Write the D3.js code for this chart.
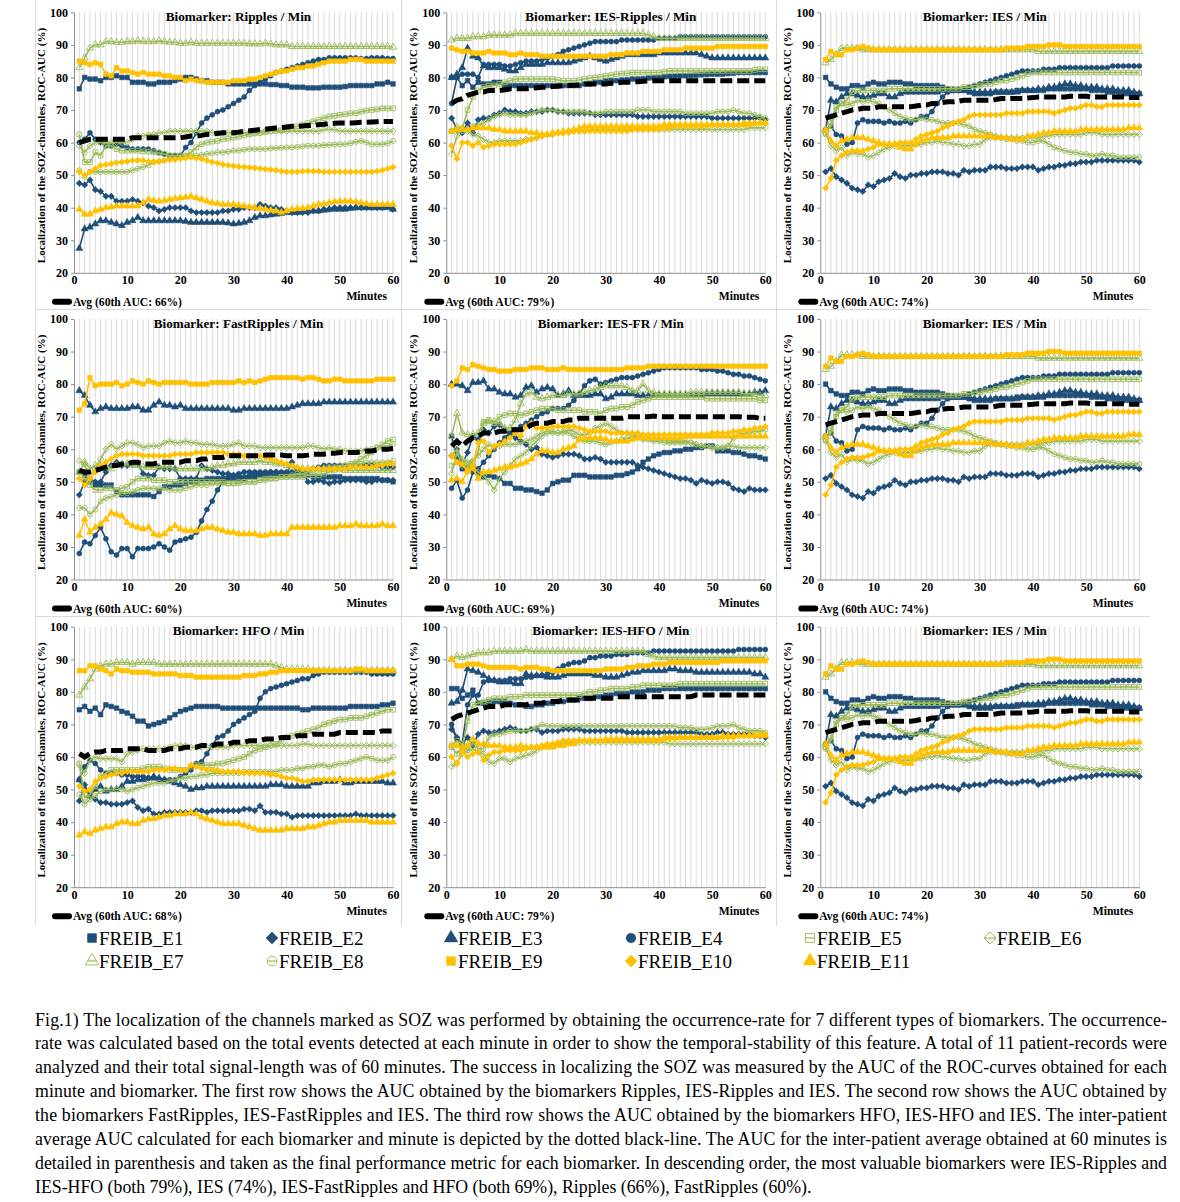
<!DOCTYPE html>
<html>
<head>
<meta charset="utf-8">
<script src="https://cdn.jsdelivr.net/npm/d3@7"></script>
<style>
  body { margin: 0; background: #fff; }
  svg { display: block; }
  text { font-family: "Liberation Serif", "Times New Roman", serif; }
</style>
</head>
<body>
<svg id="chart" width="1180" height="1202"></svg>
<script>
// ---- data (AUC %, minutes 1..60) ----
var minutes = d3.range(1, 61);
var yTicks = [20, 30, 40, 50, 60, 70, 80, 90, 100];
var xTicks = [0, 10, 20, 30, 40, 50, 60];
var seriesNames = ['FREIB_E1', 'FREIB_E2', 'FREIB_E3', 'FREIB_E4', 'FREIB_E5', 'FREIB_E6',
                   'FREIB_E7', 'FREIB_E8', 'FREIB_E9', 'FREIB_E10', 'FREIB_E11'];

var ripples = [
  [76.5,80,79.5,79.5,79,80,80,80.5,80,80, 78.5,78.5,78.5,78,78,78.5,78.5,78.5,79,79.5, 80,80,79.5,79,79,78.5,78.5,78.5,78,78, 78,78,78,78,78,78,77.8,77.8,77.5,77.5, 77,77,77,76.8,76.8,76.8,77,77,77,77, 77.2,77.5,77.5,77.5,77.5,77.5,78,78,78.5,78],
  [47.5,47,48.5,45.5,45,43.5,43.5,42,42,42, 42.5,42,41.5,40.5,40,39,39.5,40,40,40, 40,39,38.5,38.5,38.5,38.5,38.5,39,39,39.5, 39.5,40,40,40,41,40.5,40,40,39.5,39, 38.5,38.5,38.5,38.5,39,39,39.5,39.5,40,40, 40,40,40,40,40,40,40,40,40.5,39.5],
  [27.5,33.5,34,35,36,36,35.5,35,34.5,35.5, 36,37,36,36,36,36,36,36,36,36, 35.8,35.5,35.5,35.5,35.5,35.5,35.5,35.5,35.3,35, 35.2,35.5,36,37,37.5,37.5,37.8,38,38.2,38.5, 38.5,38.5,38.8,39,39,39,39.2,39.5,39.5,39.5, 39.5,39.8,40,40,40,40,40,40,40,39.5],
  [60,61,63,61,60,59,59,59.5,59,58.5, 58,58,58,58,57.5,57,56.5,56,56,56, 58.5,60,63,66,67.5,68.5,69.5,70,71,72, 73,74,76,77.5,78.5,79.5,80.5,81.5,82,82.5, 83,83.5,84,84.5,85,85.5,85.5,86,86,86, 86,86,86,85.8,85.8,86,86,86,85.8,85.8],
  [62.5,54,54,57,56,59,59,58,57.5,57.5, 57.5,57.5,57.3,57.2,57,56.8,56.5,56,56,56, 56,57,58.5,59.5,60,60.3,60.5,61,61.2,61.5, 61.8,62.2,62.5,62.8,63,63.2,63.5,63.7,63.8,64, 64.5,65,65.5,66,66.5,67,67.5,68,68.2,68.5, 68.7,69,69,69.5,69.8,70,70.2,70.5,70.5,70.5],
  [59,57,59,60,60,60,60,60,60,60, 61,62,62,62.5,62.5,63,63,63.5,63.5,63.5, 63.5,63.5,63.5,63.5,63.5,63,63,63,63,63, 63,63,63,63,63,63.5,63.5,63.5,63.5,63.5, 63.5,63.5,63.5,63.5,63.5,63.5,64,64,64,63.5, 63.5,63.5,63.5,63.5,63.5,63.5,63.5,63.5,63.5,63.5],
  [83,86,89,90,90,91,91,90.8,90.8,91, 91,91.2,91,91,91,91.2,91,90.8,90.8,90.5, 90.5,90.8,90.5,90.5,90.5,90.5,90.5,90.5,90.5,90.5, 90.5,90.5,90.3,90.3,90.3,90.5,90.3,90,90,90, 89.5,89.5,89.5,89.5,89.5,89.5,89.5,89.5,89.5,89.5, 89.5,89.5,89.5,89.5,89.5,89.5,89.5,89.5,89.5,89.3],
  [51.5,49.5,51,51,51,51,51,51,51,51, 51.5,52,52.5,53,54,54.2,54.5,55,55.2,55.5, 55.5,55.8,56,56.2,56.5,56.7,57,57,57.2,57.5, 57.5,57.8,58,58,58,58,58.2,58.3,58.4,58.5, 58.5,58.7,58.8,59,59,59,59.2,59.3,59.4,59.5, 59.5,59.8,60.2,60.5,60,59.5,59.5,59.5,59.8,60.5],
  [85,84.5,84,84.5,84,81,80.5,83,82,82, 81.5,81,81.5,81,81,81,80.5,80.5,80,80, 79,79.5,79,79,78.5,78.5,78.5,78.5,78.5,79, 79,79,79.5,79.5,80,80.5,81,81.5,82,82, 82.5,83,83,83.5,83.5,84,84.5,85,85,85, 85,85.5,85.5,85.5,85,85,85,85,85,85],
  [51,50,51,52,53,53.2,53.5,53.8,54,54.2, 54.5,54.5,54.5,54.2,54,54.2,54.5,54.7,54.8,55, 55.2,55.5,55.2,55,54.5,54,53.7,53.3,53,52.8, 52.6,52.5,52.3,52.2,52,51.8,51.7,51.5,51.2,51, 51,51,51.2,51.2,51.2,51.2,51,51,51,51, 51,51,51,51,51,51,51.2,51.5,52,52.5],
  [39.5,38,38,39,39.5,40,40.2,40.5,40.5,40.5, 40.5,40.5,41.5,42.5,42.2,42,42.2,42.5,42.8,43, 43.2,43.5,43,42.5,42,41.5,41.3,41,41,41, 40.8,40.5,40.2,40,39.8,39.5,39.2,39,38.5,39, 39.5,39.7,39.8,40,40.5,41,41.2,41.5,41.8,42, 42,42,41.8,41.5,41.2,41,41,41,41,41]
];
var ripplesAvg = [60,60.5,61,61,61,61,61,61,61,61, 61.5,61.5,61.5,61.5,61.5,61.5,61.5,61.5,61.5,61.5, 61.7,62,62,62.2,62.5,62.6,62.8,63,63,63, 63.2,63.5,63.6,63.8,64,64.1,64.3,64.5,64.6,64.8, 65,65,65.1,65.2,65.3,65.5,65.6,65.8,65.9,66, 66,66,66.1,66.2,66.2,66.3,66.4,66.5,66.5,66.5];

var iesRipples = [
  [80,80,77.5,79,77,78.5,78,78,78.5,78.5, 77.5,77.5,77.5,77.5,77.5,77.5,77.5,77.5,77.5,77.5, 77.5,77.5,77.5,77.5,77.5,78,78,78.5,78.5,79, 79,79,79.2,79.3,79.5,79.5,79.6,79.8,79.9,80, 80.2,80.3,80.4,80.5,80.5,80.6,80.7,80.8,80.9,81, 81,81,81.2,81.3,81.5,81.5,81.5,81.5,81.5,81.5],
  [67.5,64,63,66,63,67,67.5,67.5,68.5,69, 70,69.5,69.5,69,69,69.5,69.5,69.5,70,70, 69.5,69.5,69,69,69,69,69,68.5,68.5,68.5, 68.5,68.5,68.5,68.5,68.5,68,68,68,68,68, 68,68,68,68,68,68,68,68,68,67.5, 67.5,67.5,67.5,67.5,67.5,67.5,67.5,67.5,67.5,67],
  [80,81,83,89,86.5,86,83.5,83,83,83, 82.5,82,82,83,84,84,84,84,84.5,84.5, 84.5,84.5,84.5,85,85.5,86,86.5,86,85.5,85, 85.5,86,86.5,87,87,87,87,87,87,87.5, 87.5,87.5,87.5,87.5,87.5,87.5,87.5,87,86.5,86, 86,86,86,86,86,86,86,86,86,86],
  [72,80,81,81,81,80,84,84,84,84, 83.5,83.5,84,84.5,85,85,85,85.5,86,86.5, 87,88,88.5,89,89.5,90,90.5,91,91,91, 91,91,91.5,91.5,91.5,91.5,91.5,91.5,91.5,92, 92,92,92,92.5,92.5,92.5,92.5,92.5,92.5,92.5, 92.5,92.5,92.5,92.5,92.5,92.5,92.5,92.5,92.5,92.5],
  [63.5,64,64,70,74,76,77,77.5,77.5,78, 78.5,79,79.5,79.5,79.5,79.5,79.5,79.5,79.5,79.5, 79.2,79,79,79,79.2,79.5,79.8,80,80.2,80.5, 80.7,81,81.2,81.3,81.5,81.5,81.5,81.5,81.5,81.5, 81.8,82,82,82,82,82,82,82,82,82, 82,82,82,82,82,82,82,82.3,82.5,82.5],
  [56.5,62,64.5,63.5,62.5,62,61,60,60,60.5, 60.5,60.5,60.5,60.5,61,61,61.5,62,62.5,62.5, 63,63,63.5,63.5,63.5,63.5,64,64,64,64, 64,64,64,64,64,64,64,64,64,64, 64,64,64,64,64,64,64,64,64,64, 64,64,64,64,64,64,64.5,64.5,64.5,64.5],
  [91.5,92,92,92,92.5,92.5,92.5,93,93,93, 93,93,93.5,93.5,93.5,93.5,93.5,93.5,93.5,93.5, 93.5,93.5,93.5,93.5,93.5,93.5,93.5,93.5,93.5,93.5, 93.5,93.5,93.5,93.5,93.5,93.5,93.5,93,92.5,92, 92,92,92,92,92,92,92,92,92,92, 92,92,92,92,92,92,92,92,92,92],
  [63.5,65,63.5,64,65,65.5,66,67,68,68.5, 69,68.5,68.5,68.5,68.5,69,69.5,70,70,70, 69.5,69.5,69.5,69.5,69.5,69.5,69,69,69,69.5, 69.5,69.5,69.5,69.5,69.5,70,70,70,69.5,69.5, 69.5,69.5,69.5,69.5,69,69,69,69,69,69, 69.5,69.5,69.5,70,69.5,69,69,68.5,68,67.5],
  [89,88.5,88,88,87.5,87.5,87.5,88,87.5,87.5, 87.5,87,87,87.5,87,87,87,86.5,86.5,86.5, 86.5,86.5,86.5,86.5,86.5,86.5,86.5,86.5,86.5,86.5, 87,87,87,87.5,87.5,87.5,88,88,88,88, 88.5,88.5,88.5,88.5,89,89,89,89,89,89, 89.5,89.5,89.5,89.5,89.5,89.5,89.5,89.5,89.5,89.5],
  [59,55,60,60,59,60,58.5,59,59.5,59.5, 59.5,59.5,59.5,60,60.5,61,61.5,62,62.5,62.5, 63,63,63,63.5,63.5,63.5,63.5,63.5,63.5,63.5, 63.5,63.5,63.5,63.5,64,64,64,64,64,64, 64.5,64.5,65,65,65,65,65,65,65,65.5, 65.5,65.5,65.5,65.5,65.5,66,66,66,66,66],
  [63.5,64,64,64,64.5,64.5,64.5,64.5,64,64, 63.5,63.5,63.5,63.5,63.5,63,63,62.5,62.5,63, 63,63.5,63.5,64,64.5,65,65,65,65,65, 65,65,65,65,65,65,65,65,65,65, 65.5,65.5,65.5,65.5,65.5,65.5,65.5,65.5,65.5,65.5, 65.5,65.5,65.5,65.5,65.5,65.5,65.5,66,66,66]
];
var iesRipplesAvg = [72,73,73.5,74.5,75,75.5,75.5,76,76,76, 76.2,76.5,76.5,76.5,76.5,76.7,76.8,77,77,77.2, 77.3,77.5,77.5,77.6,77.7,78,78,78,78,78, 78.2,78.3,78.5,78.5,78.6,78.7,78.8,78.9,79,79, 79,79,79,79,79,79,79,79,79,79, 79,79,79,79,79,79,79,79,79,79];

var ies = [
  [80,78,77,76.5,76.5,77.5,77.5,77,78,78.5, 78,78,78.5,78.5,78.5,78,78,77.5,77.5,77.5, 77.5,77.5,77,76.5,76,76,76,75.5,75,75, 75,75,75.5,75.5,75.5,75.5,76,76,76,76, 76,76,76.5,76.5,76.5,76.5,76.5,76.5,76.5,76.5, 76,76,76,75.5,75.5,75.5,75,75,75,75],
  [51,52,49.5,48.5,47.5,46,45.5,45,47,46.5, 48,48.5,49,50.5,49.5,49,50,50,50.5,50.5, 51,51,51,50.5,50.5,50,51.5,51,51.5,51.5, 51.5,52.5,52.5,52.5,52,52,52,52.5,52.5,52.5, 51.5,52,52.5,52.5,53,53,53.5,53.5,54,54, 54,54.5,54.5,54.5,54.5,54.5,54.5,54.5,54.5,54],
  [64,73,72.5,74,75,75,74.5,74,74,74.5, 75,75,74,74,75,75.5,75.5,75.5,75.5,75.5, 75.5,75.5,76,76,76,76,76,76,75.5,75.5, 75.5,75.5,75.5,75.5,75.5,75.5,75.5,76,76,76, 76.5,76.5,77,77,77.5,78,78,77.5,77.5,77, 77,77,76.5,76.5,76.5,76,76,76,75.5,75],
  [64,65,62.5,62,59.5,60,66,67,66.5,66.5, 66.5,66,66.5,66,66,66.5,66,67,68,68, 69.5,72,74,75.5,76,76,76.5,77,77.5,78, 78.5,79,79.5,80,80.5,81,81.5,82,82,82, 82,82.5,82.5,82.5,83,83,83,83,83,83, 83,83,83,83,83.5,83.5,83.5,83.5,83.5,83.5],
  [63,65,70,72,73,75.5,76,76,76,76, 76,76,76.5,76.5,76.5,76.5,76.5,76.5,76.5,76.5, 76.5,76.5,76.5,76.5,76.5,76.5,77,77,77.5,77.5, 78,78,78.5,79,79,79.5,80,80.5,81,81.5, 81.5,81.5,81.5,81.5,81.5,81.5,81.5,81.5,81.5,81.5, 81.5,81.5,81.5,81.5,81.5,81.5,81.5,81.5,81.5,81.5],
  [63,59,57.5,58.5,56,57,56.5,56.5,55.5,56, 57,58,58.5,59,59,59,59,59.5,59.5,60, 60,60.5,60,60,59.5,59.5,59,59,59.5,59.5, 61,61.5,61.5,61.5,61.5,61.5,61.5,61.5,61.5,61.5, 61.5,62,62,62.5,62.5,62.5,62.5,62.5,62.5,63, 63,63,62.5,62.5,62.5,62.5,62.5,62.5,62.5,62.5],
  [84.5,85.5,87,89,89,89,89,88.5,88.5,88.5, 88.5,88.5,88.5,88.5,88.5,88.5,88.5,88.5,88.5,88.5, 88.5,88.5,88.5,88.5,88.5,88.5,88.5,88.5,88.5,88.5, 88.5,88.5,88.5,88.5,88.5,88.5,88.5,88.5,88.5,88.5, 88,88,88,88,88,88,88,88,88,88, 88,88,88,88,88,88,88,88,88,88],
  [62.5,66,71,72,71.5,72,73,72.5,73,72.5, 72,71,70,69,68,67.5,67,67,67.5,67, 67,66.5,66,66,66,66,65.5,65,64,63.5, 63,62.5,62,61.5,61,61,60.5,60.5,60,60, 60.5,60.5,59.5,58.5,58,57.5,57,57,56.5,56.5, 56,56,56.5,56,56,55.5,55.5,55.5,55.5,55.5],
  [85.5,88,87,87,88.5,88.5,89,89.5,89,88.5, 88.5,88.5,88.5,88.5,88.5,88.5,88.5,88.5,88.5,88.5, 88.5,88.5,88.5,88.5,88.5,88.5,88.5,88.5,88.5,88.5, 88.5,88.5,88.5,88.5,89,89,89,89,89.5,89.5, 89.5,89.5,90,90,90,89.5,89.5,89.5,89.5,89.5, 89.5,89.5,89.5,89.5,89.5,89.5,89.5,89.5,89.5,89.5],
  [46,49,54.5,56,57,57.5,57.5,57.5,58,58.5, 59.5,59.5,59.5,59.5,60,60,60,61,62,62.5, 63,63.5,64.5,65,66,66.5,67,68,68.5,68.5, 68.5,68.5,68.5,68.5,69,69,69,69,69.5,69.5, 69.5,69.5,69.5,69,69.5,70,70.5,70.5,71,71.5, 71.5,71,71,71.5,71.5,71.5,71.5,71.5,71.5,71.5],
  [64,60.5,59,60.5,61,61.5,61.5,61.5,61,60.5, 60,59.5,59.5,59.5,58.5,58,58,59.5,60.5,61, 61.5,61.5,61.5,61.5,62,62,62,62,62,62, 62,62,61.5,61.5,61.5,61,61,61,62,62, 62.5,63,63,63.5,63.5,63.5,63.5,63.5,64,64, 64,64,64,64,64,64,64,64.5,64.5,64.5]
];
var iesAvg = [67.5,68,68.5,69,69.5,70,70.2,70.5,70.5,70.5, 71,71,71,71,71,71,71,71.2,71.5,71.5, 72,72,72.3,72.5,72.5,72.7,73,73,73,73, 73,73,73.2,73.5,73.5,73.5,73.5,73.5,73.7,73.8, 74,74,74,74,74,74,74.2,74.2,74.2,74.2, 74,74,74,74,74,74,74,73.8,73.8,73.8];

var fastRipples = [
  [53,52,50,49,49,49,49,47,46,46, 46,46,46,46,45.5,47,48.5,48.5,49,49, 49.5,50,50,50.5,51,51,51,51,51,51, 51,51,51.5,51.5,52,52,52,52,52,52, 52,52,52,52,51.5,51.5,51.5,51.5,51.5,51.5, 51,51,51,51,51,51,51,50.5,50.5,50],
  [46,50,50.5,50,50,53,55,56,55,55, 55.5,55.5,52.5,52,52,54.5,54,54,54,51, 51,51,51,55,54,53.5,53,52.5,52.5,52, 52,51.5,52,52.5,52.5,52.5,53,53,52.5,52.5, 56,53,53,50,50,50.5,50,49.5,50,50, 50.5,50.5,50.5,50.5,50,50,50.5,50.5,50.5,50.5],
  [78,76.5,73.5,71.5,72.5,73,72.5,72.5,72.5,72.5, 73,73,72,72,73.5,74.5,73.5,73.5,73,73.5, 72.5,72.5,72.5,72.5,72.5,72.5,72.5,72.5,72.5,72, 72,72.5,72.5,72.5,72.5,72.5,72.5,72.5,72.5,72.5, 73,73.5,74,74,74,74,74.5,74.5,74.5,74.5, 74.5,74.5,74.5,74.5,74.5,74.5,74.5,74.5,74.5,74.5],
  [28,31.5,31,33.5,36,32.5,28.5,27.5,29.5,29.5, 27,29.5,29.5,29.5,30,31,30,29,31.5,32, 32.5,33,34.5,38,41.5,44,47.5,50,51.5,52, 52.5,53,53,53,53,53,53,53,53,53, 53,53.5,53.5,53.5,54,54.5,55,55,55,55, 55,55,55,55,55,55,55,54.5,54.5,54.5],
  [53,51,49,47.5,47.5,48,48,47.5,48,48.5, 50,51,51,51,50.5,50.5,50.5,50,50,50, 50,50,50,50,50,50,50,50,49.5,49.5, 49.5,50,50,50,50.5,51,51,51,51.5,51.5, 51.5,51.5,51.5,52,52,52,52.5,53,53.5,54, 55,55.5,56,57,58,59,60.5,61.5,62.5,63],
  [56.5,55.5,50,54,57,60,61.5,60,61,62, 62,61.5,60.5,61,61,61,62,62.5,62,62, 62.5,62,62,61.5,61.5,61.5,61,61,61,61.5, 62,61,61,61,60.5,60.5,60.5,60.5,60.5,60.5, 60.5,60.5,60.5,61,61,60.5,60,60.5,60,60, 59.5,59.5,59.5,59.5,60,60,60.5,60.5,61,61.5],
  [53,56,54,55,55,54.5,54,55,55.5,55.5, 55,55,54.5,54.5,54.5,54.5,54.5,54.5,54,54, 54,54,54,54,54,54.5,55,55,55.5,55.5, 56,56,56,56,56.5,56,56,55.5,55.5,55, 54.5,54,54,54,54,54,54,54,54,54, 53.5,53.5,53.5,53.5,53.5,53.5,53.5,53.5,53.5,53.5],
  [42,42,40,41.5,44,45,45.5,46,46.5,46.5, 47,47.5,48,48,48,48,48,47.5,47.5,47.5, 48,48.5,49,49,49,49.5,49.5,49.5,49.5,49.5, 50,50,50,50,50.5,50.5,51,51,51.5,51.5, 52,52.5,52.5,53,53.5,54,54,54.5,54.5,55, 55,55,55.5,55.5,56,56,56,56,56,56.5],
  [72,74,82,79.5,80,80,80,80.5,79.5,80, 81,80.5,80,81,80.5,80,80.5,80.5,80.5,80.5, 80.5,80,80,80,80,80.5,80.5,80.5,80.5,80.5, 81,80.5,81,80.5,81,81.5,82,82,82,82, 82,82,81.5,82,82,81.5,81,81,81.5,81.5, 81,81,81,81,81,81,81.5,81.5,81.5,81.5],
  [51,49,51,53,55,56,57,58,58.5,58.5, 58.5,58.5,58,58,58,58,58,58,58.5,58.5, 58.5,58.5,59,59,59,59,59,59,58.5,58.5, 58.5,58,58,58,58,57.5,57,56.5,56,55.5, 55,54.5,54,54,54,54,54,54,54,54, 54,54.5,54.5,54.5,54.5,54.5,55,55,55.5,55.5],
  [33.5,38.5,34.5,36,37,38.5,40.5,40,39.5,37.5, 36.5,36,35.5,36,34,33.5,34,35.5,36.5,35.5, 35,35,35,35.5,36,36,35.5,35,34.5,34.5, 34,34,34,34,33.5,33.5,34,34,34,34, 36,36,36,36,36,36,36,36,36,36.5, 36.5,36.5,37,36.5,36.5,36.5,36.5,37,36.5,36.5]
];
var fastRipplesAvg = [53.5,53,53,53.5,54,54.5,55,55,55.5,55.5, 56,56,55.5,55.5,55.5,56,56,56,56,56, 56.5,56.5,56.5,57,57,57.5,57.5,57.5,58,58, 58,58,58,58,58,58.2,58.2,58.2,58.2,58, 58,58,58,58.2,58.5,58.5,58.5,58.8,58.8,59, 59,59,59,59.2,59.5,59.5,59.8,60,60,60.2];

var iesFr = [
  [64,57,54,54,54.5,52.5,51.5,52,51.5,51, 49.5,49.5,48,48,47.5,47.5,47,46.5,47.5,49.5, 50,50.5,50.5,52,52,52,51.5,51.5,51.5,51.5, 51.5,52,52,52.5,53,54,56,57,58,58.5, 59,59,59.5,59.5,60,60,60.5,60.5,61,61, 59.5,59.5,59.5,59,59,58.5,58,58,57.5,57],
  [58,60,55.5,59,64,63,66,65,67,67.5, 66,64.5,63.5,62.5,61.5,60,60.5,58.5,58,57.5, 58,58.5,58.5,58.5,58,57,57,57.5,57,56, 56,56,56,56,56,55,54.5,54,53.5,53, 52.5,52,51.5,51,51,50.5,49.5,50.5,50,49.5, 50,50,49.5,48,47.5,47,48,47.5,47.5,47.5],
  [80,80,79.5,78,80.5,80.5,81,78.5,78.5,77.5, 77,77,76,76.5,79,79.5,77.5,78.5,79,78.5, 76.5,77,78,76.5,76.5,76.5,76.5,77,77,75.5, 76,77,77,77,77,76.5,76.5,76.5,76.5,76.5, 76.5,76.5,76.5,76.5,76.5,76.5,76.5,76.5,77,77, 77,77,77,77,77,77,77,77.5,77.5,78],
  [48,50.5,45,47.5,53,54,56,58,60,62, 63.5,65,66,67,68,69,70,71,71.5,72.5, 72.5,72.5,73.5,75,77,79.5,81,81.5,80,80.5, 81,81.5,82,82,82,82.5,83,83.5,84,84.5, 85,85,85,85,85,85,85,84.5,84.5,84.5, 84,84,83.5,83,83,82.5,82.5,82,81.5,81],
  [55,56,55.5,55,56,59,68.5,69,68,70, 70.5,71,71,70.5,71,71.5,72,72.5,72.5,72.5, 72,72,72,72,72,71.5,71.5,71.5,71,72, 72.5,72.5,73,73,73.5,74.5,75,75.5,76,76, 76,76,76,76,76,76,76,76,75.5,75.5, 75.5,75.5,75.5,75.5,75.5,75.5,75.5,75.5,75,75],
  [52.5,59,55,55,54.5,53,52,50,47.5,51, 53,55,57,58,59,61,62.5,64,65,65, 65,65,66,65.5,64.5,64.5,65,66.5,67,68, 67,66,65,65,64.5,64,63.5,63.5,63,63, 63,62.5,62.5,62.5,62.5,62,61.5,61,61,60.5, 60.5,60.5,61,61,60.5,60.5,60.5,60.5,60.5,60.5],
  [64,71,65,64.5,64.5,65,68,68.5,68.5,68, 66.5,66.5,69,74,77,77.5,76,75.5,76,76.5, 76.5,76.5,77,77,77,77.5,78,78.5,79,79.5, 79.5,79.5,79.5,79,78,78,80,78,77.5,77, 77,77,77,77,77,77.5,77.5,77.5,77.5,77.5, 77.5,77.5,77.5,77.5,77.5,77,77,77,76.5,76.5],
  [58,60,57,56,56.5,58,60,61.5,60.5,61, 61.5,61.5,61.5,62,62.5,63,64,65,65.5,65.5, 65,65.5,65,64,63,62.5,62.5,62.5,62,61.5, 62,62.5,63,63.5,63.5,63.5,63,63,62.5,62.5, 62,62,62,62,62,62,61.5,61,61,60.5, 60.5,60.5,61,63.5,64.5,65,65,65.5,65.5,66],
  [79.5,81,85,84.5,86,85.5,85,84.5,84.5,84, 84,84,84.5,84.5,84.5,85,85,85,84.5,84.5, 84.5,85,84.5,84.5,84.5,84.5,84.5,84.5,84.5,84.5, 84.5,84.5,84.5,85,85,85,85,85.5,85.5,85.5, 85.5,85.5,85.5,85.5,85.5,85.5,85.5,85.5,85.5,85.5, 85.5,85.5,85.5,85.5,85.5,85.5,85.5,85.5,85.5,85.5],
  [58,56,55.5,53,55,62,62.5,59,61,61.5, 62.5,63.5,65,64,67,68,66.5,66.5,66.5,67, 67,67,67,67,66.5,66,65.5,65.5,65.5,65.5, 65,65,65,65,65,65,64.5,64.5,64.5,64.5, 64.5,64.5,64.5,64.5,64.5,64.5,64.5,64.5,64.5,65, 65,65,65,65.5,65.5,66,66,66.5,66.5,67],
  [50.5,51,50,53.5,54,51,53,53,53.5,54, 54.5,54.5,55,55.5,56,57,58.5,59.5,59.5,59, 59,60,60.5,61,63,63.5,63.5,63.5,63.5,63, 62.5,62.5,62.5,62.5,63,63.5,63.5,63.5,63.5,63.5, 63.5,63.5,63.5,63.5,64,64,64,64,64,64, 64,64,64,64,64,64,64,64,64,64]
];
var iesFrAvg = [61,62.5,61,62.5,63.5,64,65,65,65,65.5, 65.5,66,66,66,66.5,67.5,68,68,68,68.5, 68.5,68.5,69,69,69.5,69.5,69.5,69.5,69.5,69.5, 69.5,69.5,69.5,70,70,70,70,70,70.2,70, 70,70,70,70,70,70,70,70,70,70, 70,70,70,70,70,69.8,69.8,69.8,69.5,69.5];

var hfo = [
  [74.5,75.5,74,75,73,76,75.5,75,74,73.5, 72.5,71,71,69.5,70,70.5,71,72,73,74, 74.5,75,75.5,75.5,75.5,75.5,75.5,75,75,75, 75,75,75,75,75,75,75,75,75,75, 75,75,74.5,74.5,75,75,75,75,75,75, 75,75.5,75.5,75.5,75.5,75.5,75.5,76,76,76.5],
  [46.5,51.5,48,47,46,46,45.5,45.5,45.5,46, 46.5,44.5,43.5,44,42.5,42.5,43,43,43,43, 43,43,43.5,43.5,43,43.5,43.5,43.5,43.5,43.5, 43.5,44,44,43.5,45,43,43,43,42.5,42.5, 41.5,42,42,42,42,42,42,42,42,42, 42,42,42.5,42,42,42,42,42,42,42],
  [53,50,48,50,51,49.5,50,50,51,52.5, 52.5,53,53,53.5,54,53.5,53,52.5,52,51.5, 51,50,50.5,50.5,51,51,51,51,51,51, 51,51,51,51,51,51,51.5,51.5,51.5,51, 51,51,51,51,52,52,52.5,52.5,52.5,53, 52,52,52.5,52.5,52.5,52.5,52.5,52.5,52,52],
  [53,57,59,58,56,55,55,55,54.5,54.5, 54,54,54,53.5,53.5,53,53,53,53,54, 55,56,58,58.5,61,63.5,66,66.5,68,70, 71,72,73,74,78,80,81,81.5,82,82.5, 83,83.5,84,84,85,85.5,86,86,86,86, 86,86,86,86,86,85.5,85.5,85.5,85.5,85.5],
  [58,47.5,48.5,51,54,55,56,56,56,56, 56,56,56.5,57,57,57,56.5,56,56,56, 56,57,57.5,57.5,57.5,57.5,58,58,58.5,59, 59.5,60,61,62,62.5,63,63.5,64,65,66, 66.5,67,67.5,68,68.5,69,70,70.5,71,71.5, 71.5,72,72,72,72.5,73,73.5,74,74.5,74.5],
  [57.5,55,59,60,59.5,59.5,59.5,59.5,58.5,61, 61.5,62,62.5,62.5,62.5,62.5,62.5,63,63.5,63.5, 63.5,63,63,63,63,63,63,63,63,63.5, 63.5,63.5,63.5,63.5,63.5,63.5,63.5,63.5,63.5,63.5, 63.5,63.5,64,64,63.5,63.5,63.5,63.5,63.5,63.5, 63.5,63.5,63.5,63.5,63.5,63.5,63.5,63.5,63.5,63.5],
  [79,81.5,84,87,88,88.5,88.5,89,89,89, 88.5,89,89,89,89,88.5,88.5,88.5,88.5,88.5, 88.5,88.5,88.5,88.5,88.5,88.5,88.5,88.5,88.5,88.5, 88.5,88.5,88.5,88.5,88.5,88.5,88.5,88,87.5,87, 87,87,87,87,86.5,86.5,86.5,86.5,86.5,86.5, 86.5,86.5,86.5,86.5,86.5,86.5,86.5,86.5,86.5,86.5],
  [48.5,45.5,47,48,49.5,50,50,50,50,49.5, 50,50.5,51,51.5,52,52,52,52.5,53,53.5, 53.5,54,54,54.5,54.5,55,55,55,55,55, 55,55.5,55.5,55.5,55.5,55.5,55.5,55.5,56,56, 56,56.5,56.5,57,57,57.5,57.5,57,57.5,58, 58,58.5,59,59.5,60,59.5,59,59,59,60],
  [86.5,86.5,88,88,87,86.5,85.5,87,86.5,86.5, 86,86,86,86,85.5,85.5,85.5,85.5,85.5,85, 85,85,84.5,84.5,84.5,84.5,84.5,84.5,84.5,84.5, 84.5,85,85,85,85.5,85.5,86,86,86.5,86.5, 86.5,86.5,86.5,86.5,86.5,86.5,86.5,86.5,86.5,86.5, 86.5,86.5,87,87,86.5,86.5,86.5,86.5,86.5,86.5],
  [51,49.5,50,52.5,53.5,54,54.5,55,55,55.5, 55.5,55.5,55.5,55.5,56,56,56,56.5,56.5,56, 56,57.5,57,56.5,56,56,56,55.5,55.5,55.5, 55.5,55,55,55,55,55,54.5,54.5,54,53.5, 53.5,53,52.5,52.5,53,53,53,53,53,53, 53,53,53,53,53,53,53.5,54,54.5,55],
  [36,37,36.5,37.5,38,38.5,38.5,39.5,40,40, 39.5,39.5,40.5,41,41,41.5,42,42,42.5,42.5, 42.5,43,42.5,41.5,41,40.5,40,39.5,39.5,39.5, 39.5,39,38.5,38,37.5,37.5,37.5,37.5,37.5,38, 38,38,38,38.5,38.5,39,39.5,40,40,40.5, 40.5,40.5,40.5,40.5,40.5,40,40,40,40,40]
];
var hfoAvg = [61,60,61,61.5,61.5,62,62,62,62,62.5, 62.5,62.5,62.5,62,62,62,62,62.5,62.5,62.5, 63,63,63,63.5,63.5,63.5,64,64,64,64.5, 64.5,64.5,65,65,65,65.5,65.5,65.5,66,66, 66,66.5,66.5,66.5,67,67,67,67,67,67.5, 67.5,67.5,67.5,67.5,67.5,67.5,67.5,68,68,68];

var iesHfo = [
  [81,81,78,79,80.5,76.5,76.5,77,77,77, 77,76.5,76,76,75.5,75.5,76,76,76.5,76.5, 77,77,77.5,77.5,78,78,78,78.5,78.5,79, 79,79.5,79.5,79.5,80,80,80,80.5,80.5,80.5, 81,81,81,81,81,81,81,81,81,81, 81,81,81,81,81,81,81,81,81,81],
  [68.5,66,64,66,63.5,67,68,67.5,67.5,68, 68.5,69,68.5,68,68,68.5,68.5,67.5,68,68, 68,68.5,68.5,68.5,68.5,68,68,68,68,68, 68,68,68,67.5,67.5,67.5,67.5,67.5,67.5,67.5, 67.5,67.5,67.5,67.5,67.5,67.5,67.5,67,67,67, 67.5,67.5,67,67,67,67,67,66.5,66.5,66],
  [76.5,77,80.5,87,86.5,86,85,84,83.5,83, 83,83,82.5,82.5,85.5,85,85,85,84.5,84.5, 84.5,85,85.5,85.5,85.5,85.5,85.5,85,85,84.5, 84.5,84.5,85,85.5,86,86,86.5,86.5,86.5,86.5, 86.5,87,87,86.5,86.5,86.5,86,86,86,86, 86,86,86,86,86,86,86,85.5,85.5,84.5],
  [70,65.5,64,76,79,79,83,83.5,83.5,83.5, 83.5,84,84,84,84.5,84.5,85,85,85.5,86, 87,88,88.5,89,89,89.5,90.5,90.5,91,91, 91,91.5,91.5,91.5,92,92,92,92,92.5,92.5, 92.5,92.5,92.5,92.5,92.5,92.5,92.5,92.5,92.5,92.5, 92.5,92.5,92.5,92.5,93,93,93,93,93,93],
  [63,61,63,71,76,76.5,77,77.5,78,78, 78,78.5,78.5,78.5,79,79,79,79,79,79, 79,79,79,79,79,79.5,80,80,80.5,80.5, 81,81,81,81,81.5,81.5,82,82,82,82, 82,82,82,82.5,82.5,82.5,82.5,82.5,82.5,82.5, 82.5,82.5,82.5,82.5,82.5,82.5,82.5,82.5,82.5,82.5],
  [57,58,61,62,62.5,61.5,61,58.5,58,59.5, 59.5,58.5,59.5,60,60.5,61,62,63,63.5,63.5, 64,64,64.5,64.5,64.5,64.5,64.5,64.5,64.5,64.5, 64.5,64.5,64.5,64.5,64.5,64.5,64.5,64.5,64.5,64.5, 64.5,64,64,64,64,64,64,64,64,64, 64,64,64,64,64,64,64,64,64,64],
  [90,91,90.5,91,91.5,92,92,92,92.5,92.5, 92.5,92.5,92.5,92.5,93,92.5,92.5,92.5,92.5,92.5, 92.5,92.5,92.5,92.5,92.5,92.5,92.5,92.5,92.5,92.5, 92.5,92.5,92.5,92.5,92.5,92.5,92.5,91.5,91,90.5, 90.5,90.5,90.5,90.5,90.5,90.5,90.5,90.5,90.5,90.5, 90.5,90.5,90.5,90.5,90.5,90.5,90.5,90.5,90.5,90.5],
  [63.5,65,64,62,64.5,62.5,62.5,66,67,67, 67.5,68,68,68,68,68.5,69,70,69.5,69.5, 69.5,69.5,69.5,69.5,69.5,69.5,69.5,69.5,69.5,69.5, 69.5,69.5,69.5,69.5,69.5,69.5,69.5,69.5,69.5,69.5, 69.5,69.5,69.5,69,69,69,68.5,68.5,68.5,69, 69.5,69.5,69.5,70,69,68.5,68,68,68,67.5],
  [90,88,88,88.5,88.5,88.5,88,87.5,87.5,87.5, 87.5,87.5,87.5,87,87.5,87.5,87.5,87,87,86.5, 86.5,86.5,86.5,86.5,86.5,86.5,86.5,86.5,86.5,87, 87,87,87,87.5,87.5,88,88,88,88.5,88.5, 88.5,89,89,89,89,89,89,89,89,89, 89,89.5,89.5,89.5,89.5,89.5,89.5,89.5,89.5,89.5],
  [60,58,61.5,60,61,61.5,59,60.5,61.5,61.5, 62,62,62,62,62.5,63,63,63.5,64,64, 64.5,65,65,65,65,65,65,65,65,65, 65,65,65,65,65,65,65,65,65,65, 65.5,65.5,65.5,66,66,66,66,66,66,66, 66,66,66,66,66.5,66.5,66.5,66.5,67,67],
  [63.5,63.5,63,63.5,65.5,64,64,63.5,63.5,63.5, 63,63,63,63.5,63,63,63,63,63,63, 63.5,63.5,64,64,65,65,65,65,65,65.5, 65.5,65.5,65.5,65.5,65.5,65.5,65.5,65.5,65.5,65.5, 66,66,66,66,66,66,66,66,66,66, 66,66.5,66.5,66.5,66.5,66.5,66.5,66.5,66.5,66.5]
];
var iesHfoAvg = [71.5,72.5,73,73.5,74,74.5,75,75.5,75.5,75.5, 76,76,76,76,76,76.5,76.5,76.5,77,77, 77,77.5,77.5,77.5,77.5,78,78,78,78,78, 78,78.5,78.5,78.5,78.5,78.5,78.5,78.5,78.5,78.5, 78.5,78.5,78.5,78.5,78.5,78.5,79,79,79,79, 79,79,79,79,79,79,79,79,79,79];

var panelTitles = ['Biomarker: Ripples / Min', 'Biomarker: IES-Ripples / Min', 'Biomarker: IES / Min',
                   'Biomarker: FastRipples / Min', 'Biomarker: IES-FR / Min', 'Biomarker: IES / Min',
                   'Biomarker: HFO / Min', 'Biomarker: IES-HFO / Min', 'Biomarker: IES / Min'];
var avgLabels = ['Avg (60th AUC: 66%)', 'Avg (60th AUC: 79%)', 'Avg (60th AUC: 74%)',
                 'Avg (60th AUC: 60%)', 'Avg (60th AUC: 69%)', 'Avg (60th AUC: 74%)',
                 'Avg (60th AUC: 68%)', 'Avg (60th AUC: 79%)', 'Avg (60th AUC: 74%)'];
var panelSeries = [ripples, iesRipples, ies, fastRipples, iesFr, ies, hfo, iesHfo, ies];
var panelAvg = [ripplesAvg, iesRipplesAvg, iesAvg, fastRipplesAvg, iesFrAvg, iesAvg, hfoAvg, iesHfoAvg, iesAvg];

var captionLines = [
  'Fig.1) The localization of the channels marked as SOZ was performed by obtaining the occurrence-rate for 7 different types of biomarkers. The occurrence-',
  'rate was calculated based on the total events detected at each minute in order to show the temporal-stability of this feature. A total of 11 patient-records were',
  'analyzed and their total signal-length was of 60 minutes. The success in localizing the SOZ was measured by the AUC of the ROC-curves obtained for each',
  'minute and biomarker. The first row shows the AUC obtained by the biomarkers Ripples, IES-Ripples and IES. The second row shows the AUC obtained by',
  'the biomarkers FastRipples, IES-FastRipples and IES. The third row shows the AUC obtained by the biomarkers HFO, IES-HFO and IES. The inter-patient',
  'average AUC calculated for each biomarker and minute is depicted by the dotted black-line. The AUC for the inter-patient average obtained at 60 minutes is',
  'detailed in parenthesis and taken as the final performance metric for each biomarker. In descending order, the most valuable biomarkers were IES-Ripples and',
  'IES-HFO (both 79%), IES (74%), IES-FastRipples and HFO (both 69%), Ripples (66%), FastRipples (60%).'
];

// ---- styling ----
var NAVY = '#1f4e79';
var GREEN = '#9bbb59';
var GOLD = '#ffc000';
var GRID = '#d9d9d9';
var AXIS = '#8c8c8c';
var SERIF = '"Liberation Serif", "Times New Roman", serif';
var markerStyles = [
  {color: NAVY, shape: 'square', open: false},
  {color: NAVY, shape: 'diamond', open: false},
  {color: NAVY, shape: 'triangle', open: false},
  {color: NAVY, shape: 'circle', open: false},
  {color: GREEN, shape: 'square', open: true},
  {color: GREEN, shape: 'diamond', open: true},
  {color: GREEN, shape: 'triangle', open: true},
  {color: GREEN, shape: 'circle', open: true},
  {color: GOLD, shape: 'square', open: false},
  {color: GOLD, shape: 'diamond', open: false},
  {color: GOLD, shape: 'triangle', open: false}
];

var PLOT_W = 319;
var PLOT_H = 260.5;
var plotLefts = [74, 446.3, 820.3];
var plotTops = [12.3, 319, 626.7];

var svg = d3.select('#chart');
svg.append('rect').attr('width', 1180).attr('height', 1202).attr('fill', '#fff');

function symbolFor(shape, scale) {
    var s = scale || 1;
    if (shape === 'square') return d3.symbol().type(d3.symbolSquare).size(22 * s * s)();
    if (shape === 'diamond') return d3.symbol().type(d3.symbolSquare).size(20 * s * s)();
    if (shape === 'triangle') return d3.symbol().type(d3.symbolTriangle).size(22 * s * s)();
    return d3.symbol().type(d3.symbolCircle).size(20 * s * s)();
}

function drawMarker(sel, st, scale) {
    sel.attr('d', symbolFor(st.shape, scale))
        .attr('fill', st.open ? 'none' : st.color)
        .attr('stroke', st.color)
        .attr('stroke-width', st.open ? 0.9 : 0.5);
}

// panel frames
var frame = svg.append('g').attr('stroke', GRID).attr('stroke-width', 1);
[35.5, 401.5, 776.5].forEach(function (xv) {
    frame.append('line').attr('x1', xv).attr('x2', xv).attr('y1', 0).attr('y2', 926);
});
[309.5, 616.5].forEach(function (yv) {
    frame.append('line').attr('x1', 35).attr('x2', 1150).attr('y1', yv).attr('y2', yv);
});

function drawPanel(idx) {
    var col = idx % 3, row = Math.floor(idx / 3);
    var left = plotLefts[col], top = plotTops[row];
    var g = svg.append('g').attr('transform', 'translate(' + left + ',' + top + ')');

    var x = d3.scaleLinear().domain([0, 60]).range([0, PLOT_W]);
    var y = d3.scaleLinear().domain([20, 100]).range([PLOT_H, 0]);

    // vertical gridlines each minute
    g.append('g').selectAll('line').data(minutes).enter().append('line')
        .attr('x1', function (d) { return x(d); })
        .attr('x2', function (d) { return x(d); })
        .attr('y1', 0).attr('y2', PLOT_H)
        .attr('stroke', GRID).attr('stroke-width', 1);

    var yAxis = d3.axisLeft(y).tickValues(yTicks).tickSize(3).tickSizeOuter(0).tickPadding(3);
    var yg = g.append('g').call(yAxis);
    yg.select('.domain').attr('stroke', AXIS);
    yg.selectAll('.tick line').attr('stroke', AXIS);
    yg.selectAll('text').attr('font-size', 12).attr('font-weight', 'bold')
        .attr('font-family', SERIF).attr('fill', '#000');

    var xAxis = d3.axisBottom(x).tickValues(xTicks).tickSize(0).tickSizeOuter(0).tickPadding(3);
    var xg = g.append('g').attr('transform', 'translate(0,' + PLOT_H + ')').call(xAxis);
    xg.select('.domain').attr('stroke', AXIS);
    xg.selectAll('text').attr('font-size', 12).attr('font-weight', 'bold')
        .attr('font-family', SERIF).attr('fill', '#000');

    var line = d3.line()
        .x(function (d, i) { return x(minutes[i]); })
        .y(function (d) { return y(d); });

    panelSeries[idx].forEach(function (vals, si) {
        var st = markerStyles[si];
        var sg = g.append('g');
        sg.append('path').datum(vals).attr('d', line)
            .attr('fill', 'none').attr('stroke', st.color).attr('stroke-width', 1.6);
        sg.selectAll('path.m').data(vals).enter().append('path').attr('class', 'm')
            .attr('transform', function (d, i) {
                return 'translate(' + x(minutes[i]) + ',' + y(d) + ')' + (st.shape === 'diamond' ? ' rotate(45)' : '');
            })
            .call(drawMarker, st, 1);
    });

    g.append('path').datum(panelAvg[idx]).attr('d', line)
        .attr('fill', 'none').attr('stroke', '#000').attr('stroke-width', 5)
        .attr('stroke-dasharray', '12,5');

    // titles and labels
    g.append('text').attr('x', PLOT_W / 2 + 5).attr('y', 8.5)
        .attr('text-anchor', 'middle').attr('font-size', 13.2).attr('font-weight', 'bold')
        .attr('font-family', SERIF).text(panelTitles[idx]);
    g.append('text')
        .attr('transform', 'translate(-29,' + (PLOT_H / 2 + 3) + ') rotate(-90)')
        .attr('text-anchor', 'middle').attr('font-size', 11).attr('font-weight', 'bold')
        .attr('font-family', SERIF).text('Localization of the SOZ-channles, ROC-AUC (%)');
    g.append('text').attr('x', PLOT_W - 6).attr('y', PLOT_H + 27.5)
        .attr('text-anchor', 'end').attr('font-size', 11.6).attr('font-weight', 'bold')
        .attr('font-family', SERIF).text('Minutes');
    g.append('line').attr('x1', -19).attr('x2', -5).attr('y1', PLOT_H + 29).attr('y2', PLOT_H + 29)
        .attr('stroke', '#000').attr('stroke-width', 6).attr('stroke-linecap', 'round');
    g.append('text').attr('x', -1).attr('y', PLOT_H + 33)
        .attr('font-size', 11.6).attr('font-weight', 'bold')
        .attr('font-family', SERIF).text(avgLabels[idx]);
}

for (var p = 0; p < 9; p++) drawPanel(p);

// legend
var legendX = [92, 272, 451, 631, 810, 990];
var legendY = [938, 961];
var legend = svg.append('g');
seriesNames.forEach(function (name, i) {
    var lx = legendX[i % 6], ly = legendY[Math.floor(i / 6)];
    var st = markerStyles[i];
    var item = legend.append('g').attr('transform', 'translate(' + lx + ',' + ly + ')');
    item.append('line').attr('x1', -5).attr('x2', 5).attr('y1', 0).attr('y2', 0)
        .attr('stroke', st.color).attr('stroke-width', 1.2);
    item.append('path').attr('transform', st.shape === 'diamond' ? 'rotate(45)' : null)
        .call(drawMarker, st, 1.9);
    item.append('text').attr('x', 7).attr('y', 6.5).attr('font-size', 19)
        .attr('font-family', SERIF).text(name);
});

// caption
var caption = svg.append('g');
captionLines.forEach(function (ln, i) {
    var t = caption.append('text').attr('x', 35).attr('y', 1025.5 + i * 23.9)
        .attr('font-size', 17.8).attr('font-family', SERIF).attr('fill', '#000').text(ln);
    if (i < captionLines.length - 1) {
        t.attr('textLength', 1132).attr('lengthAdjust', 'spacing');
    }
});
</script>
</body>
</html>
